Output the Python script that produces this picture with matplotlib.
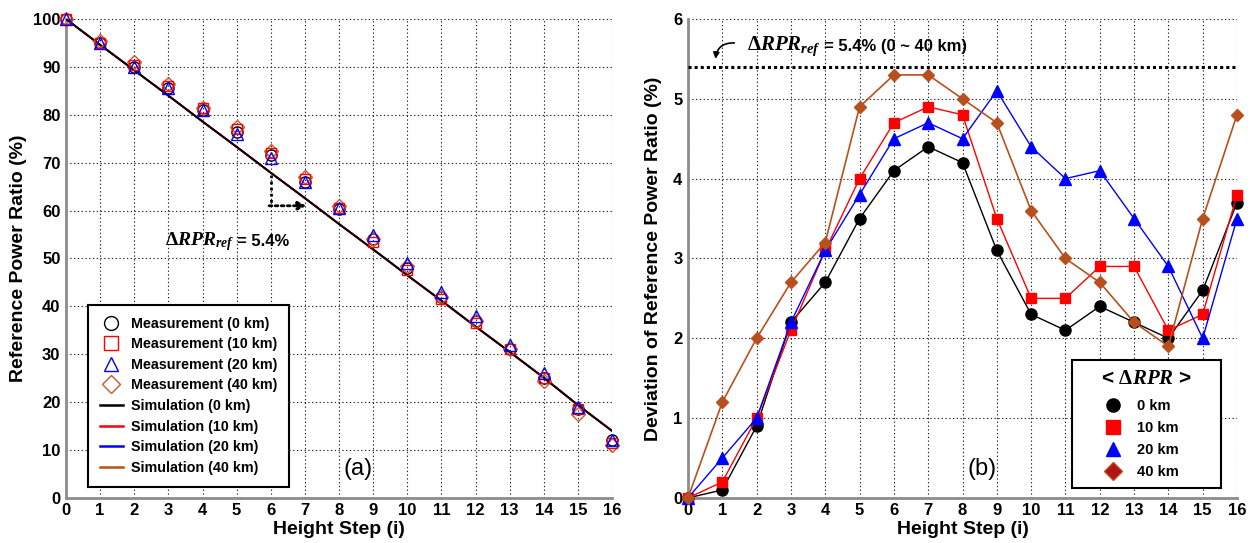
import matplotlib.pyplot as plt
from matplotlib.lines import Line2D

plt.rcParams["font.family"] = ["Liberation Sans", "DejaVu Sans"]
plt.rcParams["font.weight"] = "bold"
plt.rcParams["mathtext.fontset"] = "custom"
plt.rcParams["mathtext.it"] = "Liberation Serif:italic:bold"
plt.rcParams["mathtext.rm"] = "Liberation Serif:bold"
plt.rcParams["mathtext.bf"] = "Liberation Serif:bold"

steps = list(range(17))
distances = ["0 km", "10 km", "20 km", "40 km"]

# (a) measured reference power ratio (%)
meas_0 = [100, 95.0, 90.0, 85.5, 81.0, 76.5, 71.5, 66.0, 60.3, 54.0, 48.0, 42.0, 37.0, 31.0, 25.0, 18.5, 12.0]
meas_10 = [100, 95.0, 90.5, 86.0, 81.5, 77.0, 72.0, 66.5, 60.5, 53.5, 47.5, 41.5, 36.5, 31.0, 25.0, 18.5, 11.5]
meas_20 = [100, 95.0, 90.0, 85.5, 81.0, 76.0, 71.0, 66.0, 60.5, 55.0, 49.0, 43.0, 38.0, 32.0, 26.0, 19.0, 12.0]
meas_40 = [100, 95.5, 91.0, 86.5, 81.5, 77.5, 72.5, 67.0, 61.0, 54.0, 48.5, 42.0, 37.0, 31.0, 24.5, 17.5, 11.0]
# simulated lines (all four overlap)
sim = [100, 94.6, 89.3, 84.0, 78.6, 73.3, 67.9, 62.6, 57.2, 51.9, 46.5, 41.2, 35.8, 30.5, 25.1, 19.4, 14.0]

# (b) deviation of reference power ratio (%)
dev_0 = [0, 0.1, 0.9, 2.2, 2.7, 3.5, 4.1, 4.4, 4.2, 3.1, 2.3, 2.1, 2.4, 2.2, 2.0, 2.6, 3.7]
dev_10 = [0, 0.2, 1.0, 2.1, 3.1, 4.0, 4.7, 4.9, 4.8, 3.5, 2.5, 2.5, 2.9, 2.9, 2.1, 2.3, 3.8]
dev_20 = [0, 0.5, 1.0, 2.2, 3.1, 3.8, 4.5, 4.7, 4.5, 5.1, 4.4, 4.0, 4.1, 3.5, 2.9, 2.0, 3.5]
dev_40 = [0, 1.2, 2.0, 2.7, 3.2, 4.9, 5.3, 5.3, 5.0, 4.7, 3.6, 3.0, 2.7, 2.2, 1.9, 3.5, 4.8]
dref = 5.4

BROWN = "#B8501E"
DKRED = "#B01414"


def style(ax, ymax, ystep):
    ax.set_xlim(0, 16)
    ax.set_ylim(0, ymax)
    ax.set_xticks(steps)
    ax.set_yticks(range(0, ymax + 1, ystep))
    ax.grid(True, color="#222222", linestyle=(0, (1.2, 2.2)), linewidth=0.8)
    for s in ["top", "right"]:
        ax.spines[s].set_visible(False)
    for s in ["left", "bottom"]:
        ax.spines[s].set_color("#8c8c8c")
        ax.spines[s].set_linewidth(2)
    ax.tick_params(length=0, pad=4, labelsize=12)
    for lbl in ax.get_xticklabels() + ax.get_yticklabels():
        lbl.set_fontweight("bold")
    ax.set_xlabel("Height Step (i)", fontsize=14, fontweight="bold", labelpad=2)


def delta_label(ax, x, y, rest, math_size, rest_size):
    t = ax.text(x, y, r"$\Delta RPR_{ref}$", fontsize=math_size, va="center", ha="left")
    ax.annotate(rest, xy=(1, 0.5), xycoords=t, xytext=(2, 0), textcoords="offset points",
                fontsize=rest_size, fontweight="bold", va="center", ha="left")


fig = plt.figure(figsize=(12.5, 5.43), dpi=100)
ax1 = fig.add_axes([0.0528, 0.083, 0.4368, 0.882])
ax2 = fig.add_axes([0.5504, 0.083, 0.4392, 0.882])

# ---- (a)
style(ax1, 100, 10)
ms = 8
ax1.plot(steps, sim, color=BROWN, lw=1.3, zorder=3)
ax1.plot(steps, sim, color="blue", lw=1.3, zorder=3)
ax1.plot(steps, sim, color="red", lw=1.3, zorder=3)
ax1.plot(steps, sim, color="black", lw=1.3, zorder=3)
ax1.plot(steps, meas_0, "o", mfc="none", mec="black", ms=ms, mew=1, zorder=4, clip_on=False)
ax1.plot(steps, meas_40, "D", mfc="none", mec="#C85A28", ms=ms - 1, mew=1, zorder=4, clip_on=False)
ax1.plot(steps, meas_10, "s", mfc="none", mec="red", ms=ms - 1, mew=1, zorder=5, clip_on=False)
ax1.plot(steps, meas_20, "^", mfc="none", mec="blue", ms=ms, mew=1, zorder=6, clip_on=False)
ax1.set_ylabel("Reference Power Ratio (%)", fontsize=14, fontweight="bold", labelpad=4)

handles_a = [
    Line2D([], [], ls="none", marker="o", mfc="none", mec="black", ms=10, mew=1),
    Line2D([], [], ls="none", marker="s", mfc="none", mec="red", ms=10, mew=1),
    Line2D([], [], ls="none", marker="^", mfc="none", mec="blue", ms=10, mew=1),
    Line2D([], [], ls="none", marker="D", mfc="none", mec="#C85A28", ms=9, mew=1),
    Line2D([], [], color="black", lw=1.8),
    Line2D([], [], color="red", lw=1.8),
    Line2D([], [], color="blue", lw=1.8),
    Line2D([], [], color=BROWN, lw=1.8),
]
labels_a = ["Measurement (%s)" % d for d in distances] + ["Simulation (%s)" % d for d in distances]
leg1 = ax1.legend(handles_a, labels_a, loc="lower left", bbox_to_anchor=(0.04, 0.023),
                  fancybox=False, edgecolor="black", framealpha=1, handlelength=1.6,
                  labelspacing=0.46, borderpad=0.85, handletextpad=0.55, borderaxespad=0,
                  prop={"weight": "bold", "size": 10.3})
leg1.get_frame().set_linewidth(1.5)

# dotted offset marker between simulation and measurement
ax1.plot([6, 6], [67.5, 61], color="black", lw=2, linestyle=(0, (1, 1.2)), zorder=5)
ax1.annotate("", xy=(7.05, 61), xytext=(5.95, 61),
             arrowprops=dict(arrowstyle="-|>", color="black", lw=2, linestyle=(0, (1, 1.2)),
                             shrinkA=0, shrinkB=0, mutation_scale=12), zorder=5)
delta_label(ax1, 2.9, 53.6, "= 5.4%", 14, 12)
ax1.text(8.55, 6.0, "(a)", fontsize=17, fontweight="normal", ha="center", va="center")

# ---- (b)
style(ax2, 6, 1)
kw = dict(zorder=4, clip_on=False)
ax2.plot(steps, dev_0, "-o", color="black", lw=1, ms=8, **kw)
ax2.plot(steps, dev_10, "-s", color="red", lw=1, ms=7.5, **kw)
ax2.plot(steps, dev_20, "-^", color="blue", lw=1, ms=8.5, **kw)
ax2.plot(steps, dev_40, "-D", color=BROWN, lw=1.2, ms=6.5, **kw)
ax2.axhline(dref, color="black", lw=2.2, linestyle=(0, (1, 1)), zorder=3)
ax2.set_ylabel("Deviation of Reference Power Ratio (%)", fontsize=14, fontweight="bold", labelpad=8)

delta_label(ax2, 1.72, 5.66, "= 5.4% (0 ~ 40 km)", 15, 12)
ax2.annotate("", xy=(0.8, 5.5), xytext=(1.35, 5.7),
             arrowprops=dict(arrowstyle="-|>", color="black", lw=1.2,
                             connectionstyle="arc3,rad=0.45", shrinkA=0, shrinkB=0,
                             mutation_scale=9))
ax2.text(8.57, 0.36, "(b)", fontsize=17, fontweight="normal", ha="center", va="center")

handles_b = [
    Line2D([], [], ls="none", marker="o", color="black", ms=9.5),
    Line2D([], [], ls="none", marker="s", color="red", ms=10),
    Line2D([], [], ls="none", marker="^", color="blue", ms=10.5),
    Line2D([], [], ls="none", marker="D", color=DKRED, mec=BROWN, ms=9),
]
leg2 = ax2.legend(handles_b, distances, loc="lower left", bbox_to_anchor=(0.70, 0.021, 0.27, 0.26),
                  mode="expand", fancybox=False, edgecolor="black", framealpha=1,
                  handlelength=4.4, labelspacing=0.55, borderpad=0.62, handletextpad=-0.6,
                  borderaxespad=0, title=r"< $\Delta RPR$ >", title_fontsize=15,
                  prop={"weight": "bold", "size": 10.5})
leg2.get_frame().set_linewidth(1.5)
leg2.get_title().set_fontweight("bold")
leg2._legend_box.sep = 8

fig.savefig("out.png", dpi=100)
